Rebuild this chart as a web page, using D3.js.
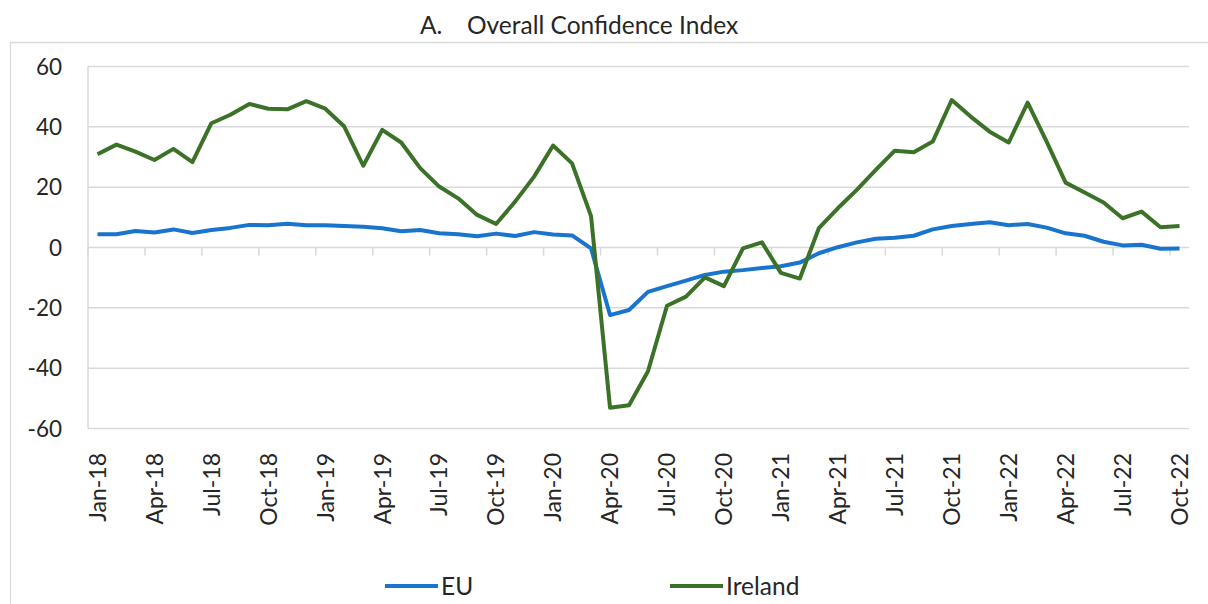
<!DOCTYPE html>
<html>
<head>
<meta charset="utf-8">
<script src="https://cdn.jsdelivr.net/npm/d3@7"></script>
<style>
  body { margin: 0; background: #fff; }
  svg { display: block; font-family: Lato, "Noto Sans", sans-serif; }
</style>
</head>
<body>
<svg id="viz" width="1208" height="604"></svg>
<script>
let months = [
  "Jan-18","Feb-18","Mar-18","Apr-18","May-18","Jun-18","Jul-18","Aug-18","Sep-18","Oct-18","Nov-18","Dec-18",
  "Jan-19","Feb-19","Mar-19","Apr-19","May-19","Jun-19","Jul-19","Aug-19","Sep-19","Oct-19","Nov-19","Dec-19",
  "Jan-20","Feb-20","Mar-20","Apr-20","May-20","Jun-20","Jul-20","Aug-20","Sep-20","Oct-20","Nov-20","Dec-20",
  "Jan-21","Feb-21","Mar-21","Apr-21","May-21","Jun-21","Jul-21","Aug-21","Sep-21","Oct-21","Nov-21","Dec-21",
  "Jan-22","Feb-22","Mar-22","Apr-22","May-22","Jun-22","Jul-22","Aug-22","Sep-22","Oct-22"
]

let euValues = [
  4.4, 4.4, 5.5, 5.0, 6.0, 4.8, 5.8, 6.5, 7.5, 7.4, 7.9, 7.4,
  7.4, 7.1, 6.9, 6.4, 5.4, 5.8, 4.7, 4.4, 3.7, 4.6, 3.8, 5.1,
  4.3, 4.0, -0.3, -22.4, -20.7, -14.7, -12.8, -11.0, -9.1, -8.0, -7.5, -6.8,
  -6.2, -5.0, -1.9, 0.1, 1.7, 2.9, 3.2, 3.9, 6.0, 7.1, 7.8, 8.4,
  7.4, 7.8, 6.6, 4.7, 3.9, 1.9, 0.7, 0.9, -0.4, -0.3
]

let irelandValues = [
  30.9, 34.1, 31.8, 29.0, 32.7, 28.3, 41.2, 44.0, 47.6, 46.0, 45.8, 48.5,
  46.0, 40.1, 27.1, 39.0, 34.8, 26.3, 20.2, 16.3, 10.8, 7.8, 15.2, 23.5,
  33.8, 27.9, 10.4, -53.1, -52.3, -41.0, -19.3, -16.3, -9.9, -12.8, -0.3, 1.7,
  -8.4, -10.3, 6.4, 13.0, 19.1, 25.7, 32.1, 31.6, 35.1, 48.9, 43.4, 38.4,
  34.8, 48.0, 35.1, 21.5, 18.2, 14.9, 9.7, 11.9, 6.7, 7.1
]

let yTicks = [-60, -40, -20, 0, 20, 40, 60]

let series = [
  {name: "EU", values: euValues, color: "#1874cd"},
  {name: "Ireland", values: irelandValues, color: "#3b7228"}
]

let plotLeft = 88, plotRight = 1189, plotTop = 66.5, plotBottom = 428.5
let textColor = "#262626"
let gridColor = "#d9d9d9"
let viz = d3.select("#viz")

// outer chart frame (cropped at right / bottom)
viz.append("path")
  .attr("d", "M10.5,610 L10.5,42.5 L1215,42.5")
  .attr("fill", "none")
  .attr("stroke", gridColor)
  .attr("stroke-width", 1.3)

// title
let title = viz.append("text")
  .attr("y", 34)
  .attr("font-size", 24.5)
  .attr("fill", textColor)
title.append("tspan").attr("x", 420).text("A.")
title.append("tspan").attr("x", 467).text("Overall Confidence Index")

let x = d3.scaleBand()
  .domain(months)
  .range([plotLeft, plotRight])

let y = d3.scaleLinear()
  .domain([-60, 60])
  .range([plotBottom, plotTop])

// gridlines
viz.append("g")
  .selectAll("line")
  .data(yTicks)
  .enter().append("line")
  .attr("x1", plotLeft)
  .attr("x2", plotRight)
  .attr("y1", d => y(d))
  .attr("y2", d => y(d))
  .attr("stroke", gridColor)
  .attr("stroke-width", 1.5)

// left vertical axis line
viz.append("line")
  .attr("x1", plotLeft).attr("x2", plotLeft)
  .attr("y1", plotTop).attr("y2", plotBottom)
  .attr("stroke", gridColor)
  .attr("stroke-width", 1.5)

// y tick labels
viz.append("g")
  .selectAll("text")
  .data(yTicks)
  .enter().append("text")
  .attr("x", 62)
  .attr("y", d => y(d))
  .attr("dy", "0.36em")
  .attr("text-anchor", "end")
  .attr("font-size", 22.5)
  .attr("fill", textColor)
  .text(d => d)

// x axis ticks at zero line, every 3 months
let tickMonths = months.filter((m, i) => i % 3 == 0)
viz.append("g")
  .selectAll("line")
  .data(tickMonths)
  .enter().append("line")
  .attr("x1", m => x(m))
  .attr("x2", m => x(m))
  .attr("y1", y(0))
  .attr("y2", y(0) + 8)
  .attr("stroke", gridColor)
  .attr("stroke-width", 1.5)

// x tick labels, rotated
viz.append("g")
  .selectAll("text")
  .data(tickMonths)
  .enter().append("text")
  .attr("transform", m => `translate(${x(m) + x.bandwidth() / 2},453) rotate(-90)`)
  .attr("dy", "0.36em")
  .attr("text-anchor", "end")
  .attr("font-size", 23)
  .attr("fill", textColor)
  .text(m => m)

// lines
let line = d3.line()
  .x((v, i) => x(months[i]) + x.bandwidth() / 2)
  .y(v => y(v))

viz.append("g")
  .selectAll("path")
  .data(series)
  .enter().append("path")
  .attr("d", s => line(s.values))
  .attr("fill", "none")
  .attr("stroke", s => s.color)
  .attr("stroke-width", 4)
  .attr("stroke-linejoin", "round")

// legend
let legendPos = [385, 670]
let gLegend = viz.append("g")
  .selectAll("g")
  .data(series)
  .enter().append("g")
  .attr("transform", (s, i) => `translate(${legendPos[i]},586)`)

gLegend.append("line")
  .attr("x1", 0).attr("x2", 53)
  .attr("stroke", s => s.color)
  .attr("stroke-width", 4)

gLegend.append("text")
  .attr("x", 56)
  .attr("dy", "0.36em")
  .attr("font-size", 24.5)
  .attr("fill", textColor)
  .text(s => s.name)
</script>
</body>
</html>
